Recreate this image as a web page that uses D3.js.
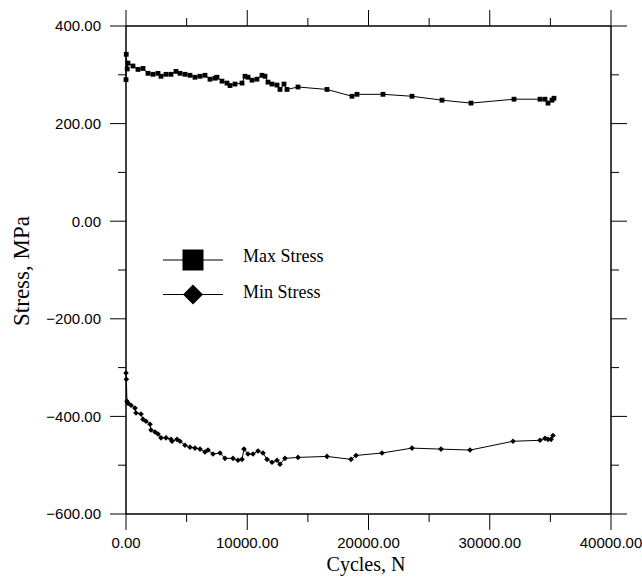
<!DOCTYPE html>
<html><head><meta charset="utf-8">
<script src="https://cdn.jsdelivr.net/npm/d3@7"></script>
<style>body{margin:0;background:#fff}svg{display:block}</style>
</head><body>
<script>
// Data (Cycles N, Stress MPa)
const maxCycles = [0,20,100,165,577,990,1402,1814,2227,2639,2887,3299,3711,4124,4454,4866,5278,5691,6103,6515,6928,7340,7505,7918,8330,8577,8990,9567,9814,10062,10392,10804,11216,11464,11711,12041,12454,12701,13031,13278,14186,16577,18639,19052,21196,23588,26062,28454,32000,34144,34557,34804,35134,35299];
const maxStress = [290,342,312,324,318,311,313,303,301,303,297,301,301,307,303,301,299,295,297,299,291,293,295,287,283,278,281,283,297,295,289,291,299,297,285,281,279,270,281,270,275,270,256,260,260,256,248,242,250,250,250,242,248,252];
const minCycles = [0,30,80,165,412,742,825,1237,1402,1649,1979,2062,2392,2639,2887,3299,3711,3794,4206,4454,4866,5278,5691,6103,6515,6763,7175,7753,8165,8825,9237,9567,9732,10062,10474,10887,11299,11629,12041,12454,12701,13113,14186,16577,18557,18969,21113,23588,25979,28371,31918,34144,34557,34804,35052,35216];
const minStress = [-311,-324,-369,-373,-377,-383,-393,-395,-406,-410,-416,-428,-432,-436,-444,-444,-447,-451,-447,-451,-459,-463,-465,-467,-473,-469,-477,-475,-486,-486,-490,-488,-467,-477,-477,-471,-475,-488,-494,-490,-498,-486,-484,-482,-488,-480,-475,-465,-467,-469,-451,-449,-445,-447,-447,-439];
const xTicks = [0,10000,20000,30000,40000];
const yTicks = [400,200,0,-200,-400,-600];
const seriesNames = ["Max Stress","Min Stress"];

const W = 642, H = 578;
const svg = d3.select("body").append("svg").attr("width", W).attr("height", H);
const x = d3.scaleLinear().domain([0,40000]).range([126,611]);
const y = d3.scaleLinear().domain([-600,400]).range([514,26]);

const g = svg.append("g");
function ln(x1,y1,x2,y2,w){ g.append("line").attr("x1",x1).attr("y1",y1).attr("x2",x2).attr("y2",y2).attr("stroke","#000").attr("stroke-width",w); }
// frame
ln(x(0),y(400),x(0),y(-600),1.5);
ln(x(40000),y(400),x(40000),y(-600),1.5);
ln(x(0),y(400),x(40000),y(400),1.5);
ln(x(0),y(-600),x(40000),y(-600),1.5);

// ticks (outward on all four sides)
const majL = 16, minL = 8;
const xMinor = d3.range(5000,40000,10000);
const yMinor = d3.range(-500,400,200);
xTicks.forEach(v=>{ ln(x(v),y(-600),x(v),y(-600)+majL,1); ln(x(v),y(400),x(v),y(400)-majL,1); });
xMinor.forEach(v=>{ ln(x(v),y(-600),x(v),y(-600)+minL,1); ln(x(v),y(400),x(v),y(400)-minL,1); });
yTicks.forEach(v=>{ ln(x(0),y(v),x(0)-majL,y(v),1); ln(x(40000),y(v),x(40000)+majL,y(v),1); });
yMinor.forEach(v=>{ ln(x(0),y(v),x(0)-minL,y(v),1); ln(x(40000),y(v),x(40000)+minL,y(v),1); });

// tick labels
const fmt = d3.format(".2f");
const sans = "Liberation Sans, Arial, sans-serif";
const serif = "Liberation Serif, Times New Roman, serif";
g.selectAll(".xl").data(xTicks).enter().append("text")
  .attr("x",d=>x(d)).attr("y",548).attr("text-anchor","middle")
  .attr("font-family",sans).attr("font-size",15).text(fmt);
g.selectAll(".yl").data(yTicks).enter().append("text")
  .attr("x",101).attr("y",d=>y(d)+5.3).attr("text-anchor","end")
  .attr("font-family",sans).attr("font-size",15).text(fmt);

// axis titles
svg.append("text").attr("x",366).attr("y",571).attr("text-anchor","middle")
  .attr("font-family",serif).attr("font-size",20).text("Cycles, N");
svg.append("text").attr("transform","translate(29,271) rotate(-90)").attr("text-anchor","middle")
  .attr("font-family",serif).attr("font-size",23).text("Stress, MPa");

// series
const maxData = maxCycles.map((c,i)=>[c,maxStress[i]]);
const minData = minCycles.map((c,i)=>[c,minStress[i]]);
const line = d3.line().x(d=>x(d[0])).y(d=>y(d[1]));
svg.append("path").attr("d",line(maxData)).attr("fill","none").attr("stroke","#000").attr("stroke-width",1);
svg.append("path").attr("d",line(minData)).attr("fill","none").attr("stroke","#000").attr("stroke-width",1);
const square = h => `M${-h},${-h}H${h}V${h}H${-h}Z`;
const diamond = h => `M0,${-h}L${h},0L0,${h}L${-h},0Z`;
svg.selectAll(".mx").data(maxData).enter().append("path").attr("d",square(2.4))
  .attr("transform",d=>`translate(${x(d[0])},${y(d[1])})`).attr("fill","#000");
svg.selectAll(".mn").data(minData).enter().append("path").attr("d",diamond(2.8))
  .attr("transform",d=>`translate(${x(d[0])},${y(d[1])})`).attr("fill","#000");

// legend
const leg = [{name:seriesNames[0], yy:260, ty:262, sym:square(10.5)},
             {name:seriesNames[1], yy:294.5, ty:298, sym:diamond(10)}];
leg.forEach(l=>{
  svg.append("line").attr("x1",163).attr("x2",223).attr("y1",l.yy).attr("y2",l.yy).attr("stroke","#000").attr("stroke-width",1);
  svg.append("path").attr("d",l.sym).attr("transform",`translate(193,${l.yy})`).attr("fill","#000");
  svg.append("text").attr("x",243).attr("y",l.ty).attr("font-family",serif).attr("font-size",18).text(l.name);
});
</script>
</body></html>
